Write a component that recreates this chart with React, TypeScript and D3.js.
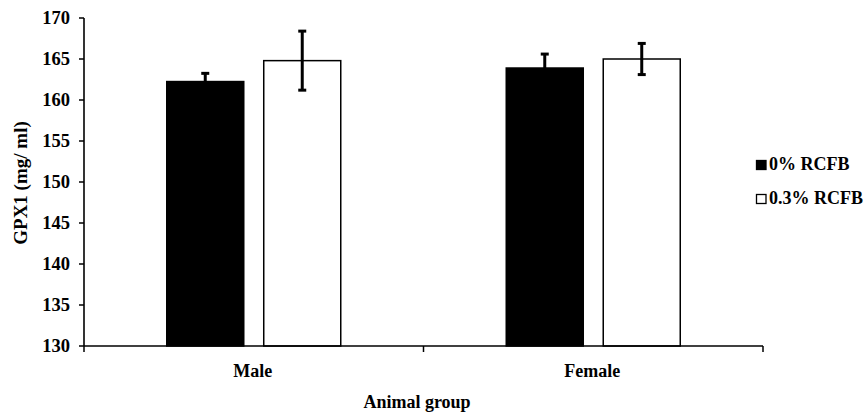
import React from "react";
import * as d3 from "d3";

const categories = ["Male", "Female"];
const series = ["0% RCFB", "0.3% RCFB"];
const seriesFill = ["#000000", "#ffffff"];
const values = [
  [162.25, 163.9],
  [164.8, 165.0],
];
const errors = [
  [1.0, 1.7],
  [3.6, 1.9],
];
const yTicks = [130, 135, 140, 145, 150, 155, 160, 165, 170];

const W = 868;
const H = 416;
const left = 84;
const right = 763;
const top = 18;
const bottom = 346;
const font = "'Liberation Serif', 'Times New Roman', serif";

export default function App() {
  const y = d3.scaleLinear().domain([130, 170]).range([bottom, top]);
  const x0 = d3.scaleBand<string>().domain(categories).range([left, right]).padding(0);
  const groupW = 174;
  const x1 = d3
    .scaleBand<string>()
    .domain(series)
    .range([0, groupW])
    .paddingInner(0.206)
    .paddingOuter(0);
  const off = (x0.bandwidth() - groupW) / 2;

  return (
    <svg
      width={W}
      height={H}
      style={{ position: "absolute", left: 0, top: 0, background: "#fff" }}
      fontFamily={font}
      fontWeight="bold"
    >
      {/* bars */}
      {categories.map((c, ci) =>
        series.map((s, si) => {
          const v = values[si][ci];
          const e = errors[si][ci];
          const bx = (x0(c) as number) + off + (x1(s) as number);
          const bw = x1.bandwidth();
          const cx = bx + bw / 2;
          return (
            <g key={c + s}>
              <rect
                x={bx}
                y={y(v)}
                width={bw}
                height={y(130) - y(v)}
                fill={seriesFill[si]}
                stroke="#000"
                strokeWidth={1.5}
              />
              <line x1={cx} x2={cx} y1={y(v - e)} y2={y(v + e)} stroke="#000" strokeWidth={3} />
              <line x1={cx - 4} x2={cx + 4} y1={y(v + e)} y2={y(v + e)} stroke="#000" strokeWidth={3} />
              <line x1={cx - 4} x2={cx + 4} y1={y(v - e)} y2={y(v - e)} stroke="#000" strokeWidth={3} />
            </g>
          );
        })
      )}

      {/* y axis */}
      <line x1={left} x2={left} y1={top} y2={bottom} stroke="#000" strokeWidth={1.6} />
      {yTicks.map((t) => (
        <g key={t}>
          <line x1={left - 5} x2={left} y1={y(t)} y2={y(t)} stroke="#000" strokeWidth={1.5} />
          <text x={70} y={y(t)} dy="0.35em" textAnchor="end" fontSize={18.5}>
            {t}
          </text>
        </g>
      ))}

      {/* x axis */}
      <line x1={left} x2={right} y1={bottom} y2={bottom} stroke="#000" strokeWidth={1.6} />
      {[left, ...categories.map((c) => (x0(c) as number) + x0.bandwidth())].map((t, i) => (
        <line key={i} x1={t} x2={t} y1={bottom} y2={bottom + 6} stroke="#000" strokeWidth={1.5} />
      ))}
      {categories.map((c) => (
        <text
          key={c}
          x={(x0(c) as number) + x0.bandwidth() / 2 - 1}
          y={377}
          textAnchor="middle"
          fontSize={18}
        >
          {c}
        </text>
      ))}

      <text x={417} y={408} textAnchor="middle" fontSize={18}>
        Animal group
      </text>
      <text
        transform={`translate(27,183) rotate(-90)`}
        textAnchor="middle"
        fontSize={19}
      >
        GPX1 (mg/ ml)
      </text>

      {/* legend */}
      {series.map((s, si) => (
        <g key={s} transform={`translate(756,${160 + si * 34})`}>
          <rect x={0.5} y={0.5} width={9.5} height={9} fill={seriesFill[si]} stroke="#000" strokeWidth={1.3} />
          <text x={13} y={9.5} fontSize={18}>
            {s}
          </text>
        </g>
      ))}
    </svg>
  );
}
